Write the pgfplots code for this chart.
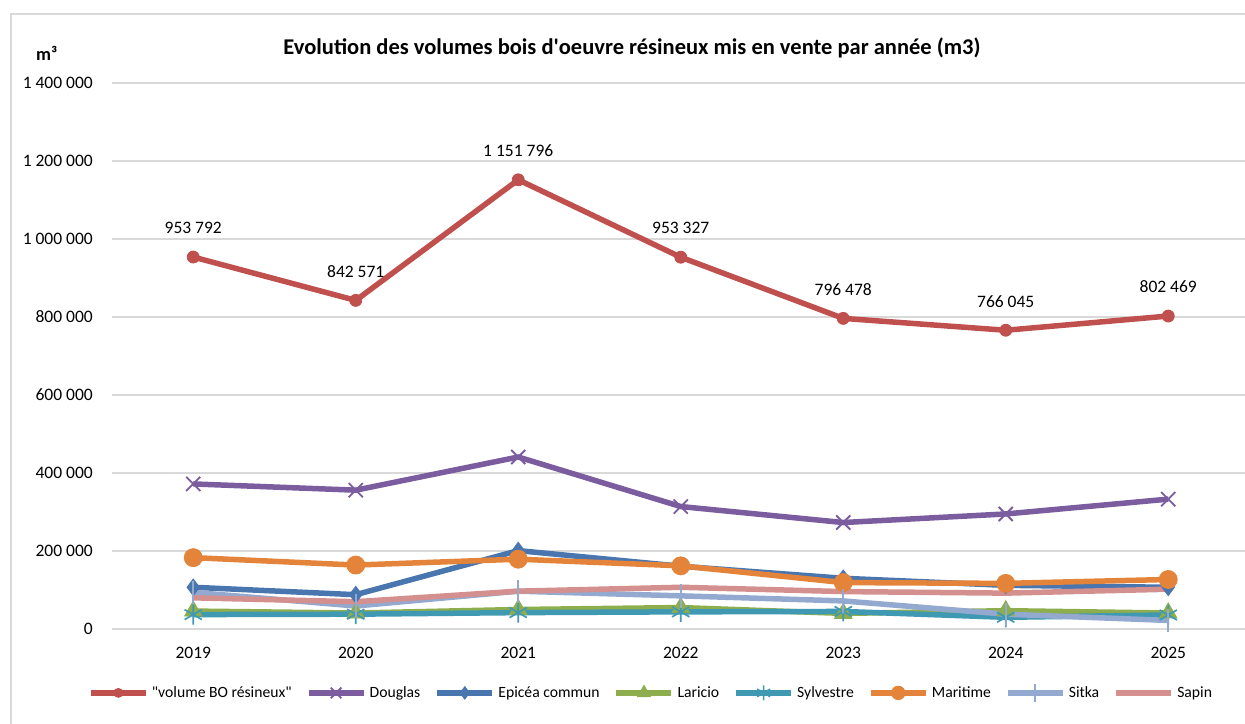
\documentclass[border=0pt]{standalone}
\usepackage{fontspec}
\setmainfont{Carlito}
\usepackage{pgfplots}
\pgfplotsset{compat=1.18}
\definecolor{cRed}{HTML}{C0504D}
\definecolor{cDoug}{HTML}{7B5C9E}
\definecolor{cEpi}{HTML}{4A76B0}
\definecolor{cLar}{HTML}{8EAE4E}
\definecolor{cSyl}{HTML}{3F99B3}
\definecolor{cMar}{HTML}{E3843A}
\definecolor{cSit}{HTML}{93A9CF}
\definecolor{cSap}{HTML}{D48F8F}
\definecolor{cGrid}{HTML}{D9D9D9}
\begin{document}
\begin{tikzpicture}
\useasboundingbox (0pt,0pt) rectangle (747pt,-433.8pt);
\draw[cGrid, line width=1.5pt] (6.6pt,-440pt) -- (6.6pt,-8.4pt) -- (760pt,-8.4pt);
\node[font=\bfseries\fontsize{13.5}{15}\selectfont] at (379.2pt,-28.8pt) {Evolution des volumes bois d\textquotesingle oeuvre résineux mis en vente par année (m3)};
\node[font=\bfseries\fontsize{11}{13}\selectfont] at (28pt,-31.8pt) {m³};
\begin{axis}[
  at={(67.2pt,-377.4pt)}, anchor=south west,
  scale only axis, width=682.5pt, height=327.6pt,
  xmin=-0.5, xmax=6.5, ymin=0, ymax=1400000,
  xtick={0,...,6}, xticklabels={2019,2020,2021,2022,2023,2024,2025},
  ytick={0,200000,...,1400000},
  scaled y ticks=false,
  /pgf/number format/.cd, fixed, precision=0, 1000 sep={\ }, assume math mode=true,
  /pgfplots/.cd,
  ymajorgrids, grid style={cGrid, line width=0.9pt},
  axis line style={draw=none},
  major tick length=0pt,
  tick label style={font=\fontsize{10.5}{12}\selectfont},
  xticklabel style={yshift=-7.6pt},
  yticklabel style={xshift=-8pt},
  clip=false,
  legend columns=8,
  legend style={at={(0.4745,-0.117)}, anchor=center, draw=none, fill=none,
    font=\fontsize{9.4}{11}\selectfont,
    /tikz/every even column/.append style={column sep=6.5pt}},
  legend image code/.code={\draw[mark repeat=2,mark phase=2,every mark/.append style={scale=0.75}] plot coordinates {(0pt,0pt) (16.5pt,0pt) (33pt,0pt)};},
  every axis plot/.append style={line width=3.3pt},
]
\addplot[cRed, mark=*, mark size=3.6pt, mark options={line width=0.5pt},
  point meta=explicit symbolic, nodes near coords,
  every node near coord/.append style={anchor=center, yshift=17.4pt, text=black, font=\fontsize{10.5}{12}\selectfont}]
  coordinates {(0,953792)[953 792] (1,842571)[842 571] (2,1151796)[1 151 796] (3,953327)[953 327] (4,796478)[796 478] (5,766045)[766 045] (6,802469)[802 469]};
\addlegendentry{\textquotedbl volume BO résineux\textquotedbl}
\addplot[cDoug, mark=x, mark size=6pt, mark options={line width=1.1pt}]
  coordinates {(0,372000) (1,356000) (2,441000) (3,314000) (4,273000) (5,295000) (6,333000)};
\addlegendentry{Douglas}
\addplot[cEpi, mark=diamond*, mark size=5pt, mark options={line width=0.5pt}]
  coordinates {(0,107000) (1,88000) (2,201000) (3,161000) (4,130000) (5,112000) (6,107000)};
\addlegendentry{Epicéa commun}
\addplot[cLar, mark=triangle*, mark size=6pt, mark options={line width=0.5pt}]
  coordinates {(0,46000) (1,41000) (2,50000) (3,55000) (4,40000) (5,47000) (6,41000)};
\addlegendentry{Laricio}
\addplot[cSyl, mark=asterisk, mark size=6pt, mark options={line width=1pt}]
  coordinates {(0,37000) (1,38000) (2,42000) (3,44000) (4,45000) (5,30000) (6,36000)};
\addlegendentry{Sylvestre}
\addplot[cMar, mark=*, mark size=5.4pt, mark options={line width=0.5pt}]
  coordinates {(0,183000) (1,164000) (2,179000) (3,162000) (4,119000) (5,117000) (6,127000)};
\addlegendentry{Maritime}
\addplot[cSit, mark=|, mark size=7pt, mark options={line width=1pt}]
  coordinates {(0,94000) (1,59000) (2,97000) (3,85000) (4,72000) (5,38000) (6,22000)};
\addlegendentry{Sitka}
\addplot[cSap, mark=none]
  coordinates {(0,80000) (1,70000) (2,97000) (3,107000) (4,96000) (5,92000) (6,102000)};
\addlegendentry{Sapin}
\end{axis}
\end{tikzpicture}
\end{document}
